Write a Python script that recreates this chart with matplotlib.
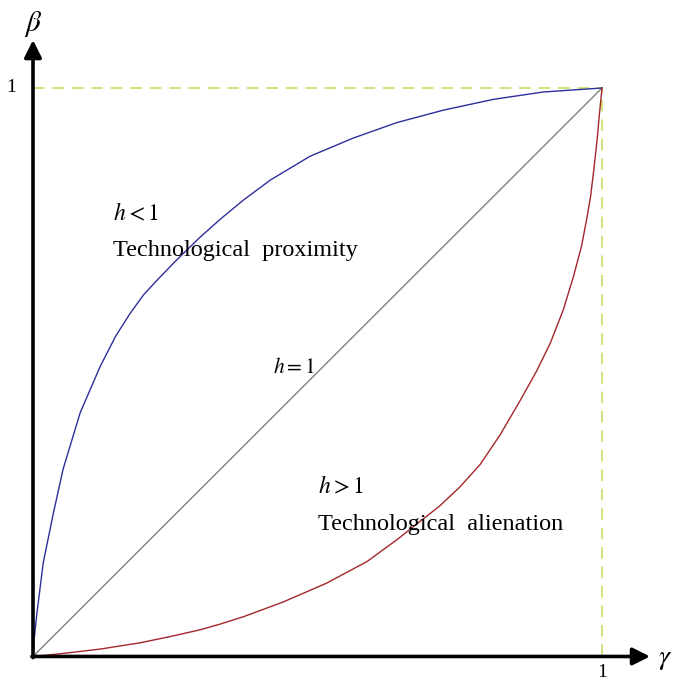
import matplotlib
matplotlib.use("Agg")
import matplotlib.pyplot as plt

plt.rcParams["mathtext.fontset"] = "stix"

# points (gamma, beta)
gamma_blue = [0, 0.002, 0.007, 0.018, 0.036, 0.053, 0.083, 0.118, 0.145, 0.171,
              0.195, 0.220, 0.250, 0.293, 0.330, 0.370, 0.417, 0.487, 0.563,
              0.639, 0.721, 0.809, 0.897, 1.0]
beta_blue = [0, 0.030, 0.077, 0.165, 0.253, 0.330, 0.429, 0.510, 0.563, 0.604,
             0.637, 0.664, 0.695, 0.737, 0.770, 0.803, 0.838, 0.880, 0.912,
             0.939, 0.961, 0.980, 0.993, 1.0]

gamma_red = [0, 0.050, 0.118, 0.188, 0.241, 0.294, 0.329, 0.370, 0.440, 0.516,
             0.587, 0.639, 0.715, 0.750, 0.786, 0.821, 0.856, 0.885, 0.909,
             0.932, 0.950, 0.964, 0.973, 0.980, 0.986, 0.991, 0.9955, 1.0]
beta_red = [0, 0.005, 0.013, 0.024, 0.035, 0.047, 0.057, 0.070, 0.096, 0.129,
            0.167, 0.205, 0.265, 0.298, 0.338, 0.390, 0.450, 0.502, 0.551,
            0.610, 0.669, 0.722, 0.769, 0.810, 0.860, 0.905, 0.955, 1.0]

diag = [0, 1]

fig = plt.figure(figsize=(6.74, 6.82), dpi=100)
ax = fig.add_axes([0, 0, 1, 1])
ax.set_xlim(-0.058, 1.1265)
ax.set_ylim(-0.0449, 1.1548)
ax.axis("off")

serif = ["Liberation Serif", "DejaVu Serif"]

# dashed guides at 1
guide = "#cce57a"
ax.plot([0, 1], [1, 1], ls=(0, (6, 4)), color=guide, lw=1.4)
ax.plot([1, 1], [0, 1], ls=(0, (6, 4)), color=guide, lw=1.4)

ax.plot(diag, diag, color="#808080", lw=1.0)
ax.plot(gamma_blue, beta_blue, color="#2e2e9c", lw=1.0)
ax.plot(gamma_red, beta_red, color="#a3262c", lw=1.0)

# axes with arrows
ap = dict(arrowstyle="-|>", lw=2.6, color="black", mutation_scale=26,
          shrinkA=0, shrinkB=0)
ax.annotate("", xy=(0, 1.0844), xytext=(0, -0.002), arrowprops=ap)
ax.annotate("", xy=(1.0844, 0), xytext=(-0.002, 0), arrowprops=ap)

ax.text(0, 1.1126, r"$\beta$", fontsize=21, ha="center", va="center")
ax.text(1.099, -0.0035, r"$\gamma$", fontsize=20, ha="left", va="center")
ax.text(-0.03, 1.0, "1", fontsize=14, ha="right", va="center", family=serif)
ax.text(1.0, -0.014, "1", fontsize=14, ha="center", va="top", family=serif)

ax.text(0.141, 0.7663, r"$h<1$", fontsize=17, ha="left", va="baseline")
ax.text(0.141, 0.7045, "Technological  proximity", fontsize=17.5, ha="left",
        va="baseline", family=serif)
ax.text(0.422, 0.498, r"$h=1$", fontsize=15.5, ha="left", va="baseline")
ax.text(0.501, 0.287, r"$h>1$", fontsize=17, ha="left", va="baseline")
ax.text(0.501, 0.223, "Technological  alienation", fontsize=17.5, ha="left",
        va="baseline", family=serif)

fig.savefig("out.png", dpi=100)
